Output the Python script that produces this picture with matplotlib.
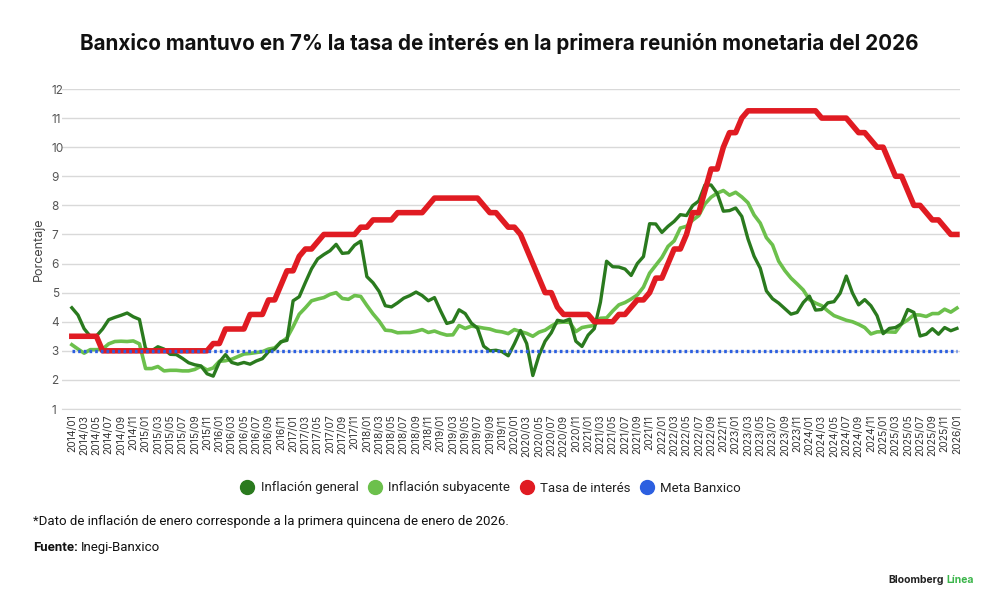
import matplotlib
matplotlib.use("Agg")
import matplotlib.pyplot as plt
from matplotlib.lines import Line2D
import numpy as np

# ---------------- data ----------------
months = [f"{y}/{m:02d}" for y in range(2014, 2026) for m in range(1, 13)] + ["2026/01"]
tick_labels = months[::2]

inflacion_general = [
    4.48, 4.23, 3.76, 3.50, 3.51, 3.75, 4.07, 4.15, 4.22, 4.30, 4.17, 4.08,   # 2014
    3.07, 3.00, 3.14, 3.06, 2.88, 2.87, 2.74, 2.59, 2.52, 2.48, 2.21, 2.13,   # 2015
    2.61, 2.87, 2.60, 2.54, 2.60, 2.54, 2.65, 2.73, 2.97, 3.06, 3.31, 3.36,   # 2016
    4.72, 4.86, 5.35, 5.82, 6.16, 6.31, 6.44, 6.66, 6.35, 6.37, 6.63, 6.77,   # 2017
    5.55, 5.34, 5.04, 4.55, 4.51, 4.65, 4.81, 4.90, 5.02, 4.90, 4.72, 4.83,   # 2018
    4.37, 3.94, 4.00, 4.41, 4.28, 3.95, 3.78, 3.16, 3.00, 3.02, 2.97, 2.83,   # 2019
    3.24, 3.70, 3.25, 2.15, 2.84, 3.33, 3.62, 4.05, 4.01, 4.09, 3.33, 3.15,   # 2020
    3.54, 3.76, 4.67, 6.08, 5.89, 5.88, 5.81, 5.59, 6.00, 6.24, 7.37, 7.36,   # 2021
    7.07, 7.28, 7.45, 7.68, 7.65, 7.99, 8.15, 8.70, 8.70, 8.41, 7.80, 7.82,   # 2022
    7.91, 7.62, 6.85, 6.25, 5.84, 5.06, 4.79, 4.64, 4.45, 4.26, 4.32, 4.66,   # 2023
    4.88, 4.40, 4.42, 4.65, 4.69, 4.98, 5.57, 4.99, 4.58, 4.76, 4.55, 4.21,   # 2024
    3.59, 3.77, 3.80, 3.93, 4.42, 4.32, 3.51, 3.57, 3.76, 3.57, 3.80, 3.69,   # 2025
    3.77,                                                                     # 2026
]

inflacion_subyacente = [
    3.21, 3.06, 2.92, 3.04, 3.04, 3.06, 3.24, 3.32, 3.33, 3.32, 3.34, 3.24,
    2.39, 2.39, 2.46, 2.31, 2.33, 2.33, 2.31, 2.31, 2.36, 2.47, 2.34, 2.41,
    2.64, 2.66, 2.71, 2.80, 2.89, 2.91, 2.94, 2.97, 3.06, 3.10, 3.29, 3.44,
    3.83, 4.26, 4.48, 4.72, 4.78, 4.83, 4.94, 5.00, 4.80, 4.77, 4.90, 4.87,
    4.56, 4.27, 4.02, 3.71, 3.69, 3.62, 3.63, 3.63, 3.67, 3.73, 3.63, 3.68,
    3.60, 3.54, 3.55, 3.87, 3.77, 3.85, 3.82, 3.78, 3.75, 3.68, 3.65, 3.59,
    3.73, 3.66, 3.60, 3.50, 3.64, 3.71, 3.85, 3.97, 3.99, 3.98, 3.66, 3.80,
    3.84, 3.87, 4.12, 4.13, 4.37, 4.58, 4.66, 4.78, 4.92, 5.19, 5.67, 5.94,
    6.21, 6.59, 6.78, 7.22, 7.28, 7.49, 7.65, 8.05, 8.28, 8.42, 8.51, 8.35,
    8.45, 8.29, 8.09, 7.67, 7.39, 6.89, 6.64, 6.08, 5.76, 5.50, 5.30, 5.09,
    4.76, 4.64, 4.55, 4.37, 4.21, 4.13, 4.05, 4.00, 3.91, 3.80, 3.58, 3.65,
    3.66, 3.65, 3.64, 3.93, 4.06, 4.24, 4.23, 4.18, 4.28, 4.28, 4.43, 4.33,
    4.47,
]

tasa_interes = [
    3.50, 3.50, 3.50, 3.50, 3.50, 3.00, 3.00, 3.00, 3.00, 3.00, 3.00, 3.00,
    3.00, 3.00, 3.00, 3.00, 3.00, 3.00, 3.00, 3.00, 3.00, 3.00, 3.00, 3.25,
    3.25, 3.75, 3.75, 3.75, 3.75, 4.25, 4.25, 4.25, 4.75, 4.75, 5.25, 5.75,
    5.75, 6.25, 6.50, 6.50, 6.75, 7.00, 7.00, 7.00, 7.00, 7.00, 7.00, 7.25,
    7.25, 7.50, 7.50, 7.50, 7.50, 7.75, 7.75, 7.75, 7.75, 7.75, 8.00, 8.25,
    8.25, 8.25, 8.25, 8.25, 8.25, 8.25, 8.25, 8.00, 7.75, 7.75, 7.50, 7.25,
    7.25, 7.00, 6.50, 6.00, 5.50, 5.00, 5.00, 4.50, 4.25, 4.25, 4.25, 4.25,
    4.25, 4.00, 4.00, 4.00, 4.00, 4.25, 4.25, 4.50, 4.75, 4.75, 5.00, 5.50,
    5.50, 6.00, 6.50, 6.50, 7.00, 7.75, 7.75, 8.50, 9.25, 9.25, 10.00, 10.50,
    10.50, 11.00, 11.25, 11.25, 11.25, 11.25, 11.25, 11.25, 11.25, 11.25, 11.25, 11.25,
    11.25, 11.25, 11.00, 11.00, 11.00, 11.00, 11.00, 10.75, 10.50, 10.50, 10.25, 10.00,
    10.00, 9.50, 9.00, 9.00, 8.50, 8.00, 8.00, 7.75, 7.50, 7.50, 7.25, 7.00,
    7.00,
]

meta_banxico = [3.0] * len(months)
y_ticks = list(range(1, 13))
legend_labels = ["Inflación general", "Inflación subyacente", "Tasa de interés", "Meta Banxico"]

# ---------------- style ----------------
C_GEN = "#2a7a1e"
C_SUB = "#6cc04c"
C_TASA = "#e01b22"
C_META = "#2c5fe0"
plt.rcParams["font.family"] = ["Inter", "DejaVu Sans"]
NARROW = ["Roboto", "DejaVu Sans"]

fig = plt.figure(figsize=(10, 6.08), dpi=100)
W, H = 1000, 608
ax = fig.add_axes([62 / W, 1 - 409 / H, (960 - 62) / W, (409 - 89) / H])
r = fig.canvas.get_renderer()


def fit(txt, target_px):
    """Scale a text's font size so its rendered width matches target_px."""
    fig.canvas.draw()
    w = txt.get_window_extent(r).width
    txt.set_fontsize(txt.get_fontsize() * target_px / w)


x = np.arange(len(months))
ax.plot(x, inflacion_subyacente, color=C_SUB, lw=2.6, zorder=3, solid_joinstyle="round")
ax.plot(x, inflacion_general, color=C_GEN, lw=2.4, zorder=4, solid_joinstyle="round")
ax.plot(x, tasa_interes, color=C_TASA, lw=4.0, zorder=5, solid_joinstyle="round")
ax.plot(x, meta_banxico, color=C_META, lw=2.4, linestyle=(0, (0.8, 0.9)), zorder=6)

ax.set_ylim(1, 12)
ax.set_xlim(-1.6, len(months) - 1 + 0.5)
ax.set_yticks(y_ticks)
ax.set_yticklabels([str(v) for v in y_ticks], fontsize=8.5, color="#555555", ha="left")
ax.tick_params(axis="y", length=0, pad=7.5)
ax.set_xticks(x[::2])
ax.set_xticklabels(tick_labels, rotation=90, fontsize=7.4, color="#333333")
ax.tick_params(axis="x", length=0, pad=4)
ax.grid(axis="y", color="#d9d9d9", lw=1.0)
ax.set_axisbelow(True)
for s in ["top", "right", "left"]:
    ax.spines[s].set_visible(False)
ax.spines["bottom"].set_color("#d9d9d9")
ax.set_ylabel("Porcentaje", fontsize=9, color="#444444")
ax.yaxis.set_label_coords(-(62 - 45) / 898, 0.5)

# title
title = fig.text(0.499, 1 - 43 / H, "Banxico mantuvo en 7% la tasa de interés en la primera reunión monetaria del 2026",
                 ha="center", va="center", fontsize=15, fontweight="bold", color="#111111")
fit(title, 838)

# legend
probe = fig.text(0, 0, legend_labels[0], fontsize=10, family=NARROW)
fit(probe, 98)
lfs = probe.get_fontsize()
probe.remove()
handles = [Line2D([], [], marker="o", ls="", color=c, markersize=10) for c in (C_GEN, C_SUB, C_TASA, C_META)]
leg = fig.legend(handles, legend_labels,
                 loc="center", bbox_to_anchor=(491 / W, 1 - 488 / H), ncol=4, frameon=False,
                 prop={"family": NARROW, "size": lfs}, handletextpad=0.5, columnspacing=0.75,
                 handlelength=1.0, borderpad=0)
for t in leg.get_texts():
    t.set_color("#222222")

# footnotes
note = fig.text(33 / W, 1 - 525 / H, "*Dato de inflación de enero corresponde a la primera quincena de enero de 2026.",
                ha="left", va="baseline", fontsize=9.5, color="#111111", family=NARROW)
fit(note, 480)
nfs = note.get_fontsize()
t1 = fig.text(33 / W, 1 - 551 / H, "Fuente:", ha="left", va="baseline", fontsize=nfs, fontweight="bold",
              color="#111111", family=NARROW)
fig.canvas.draw()
bb = t1.get_window_extent(r)
fig.text((bb.x1 + 3) / W, 1 - 551 / H, "Inegi-Banxico", ha="left", va="baseline", fontsize=nfs,
         color="#111111", family=NARROW)

# brand
t2 = fig.text(888 / W, 1 - 583 / H, "Bloomberg", ha="left", va="baseline", fontsize=7.5, fontweight="bold", color="#222222")
fig.canvas.draw()
bb = t2.get_window_extent(r)
fig.text((bb.x1 + 3) / W, 1 - 583 / H, "Línea", ha="left", va="baseline", fontsize=7.5, fontweight="bold", color="#3bb54a")

fig.savefig("out.png", dpi=100)
